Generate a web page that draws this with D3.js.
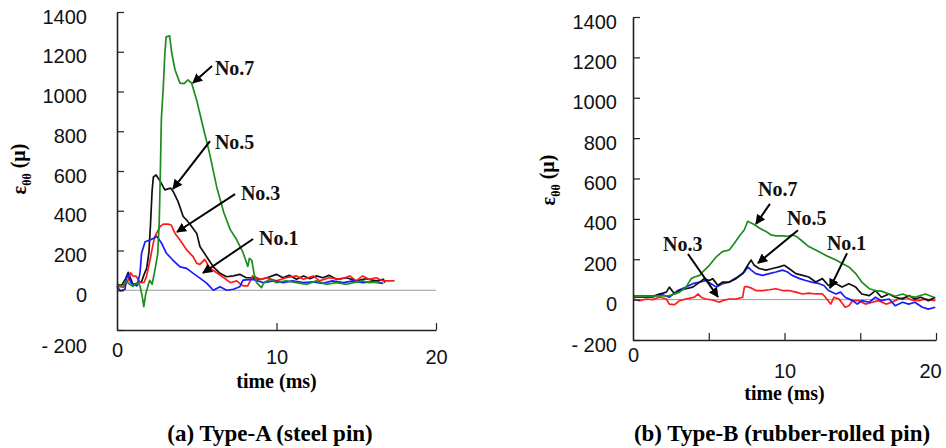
<!DOCTYPE html>
<html>
<head>
<meta charset="utf-8">
<script src="https://cdn.jsdelivr.net/npm/d3@7"></script>
<style>
body { margin: 0; background: #fff; }
svg { display: block; }
</style>
</head>
<body>
<script>
// tick labels
var yTicks = [-200, 0, 200, 400, 600, 800, 1000, 1200, 1400];
var xLabels = [0, 10, 20];

// Type-A (steel pin), [time ms, strain]
var aNo1 = [[0,22],[0.2,-3],[0.5,5],[0.6,60],[0.7,80],[0.85,40],[1.0,30],[1.25,22],[1.44,85],[1.54,186],[1.76,244],[2.07,253],[2.3,262],[2.49,272],[2.8,236],[3.1,186],[3.5,152],[3.95,118],[4.37,110],[4.78,85],[5.2,61],[5.62,36],[6.04,0],[6.46,18],[6.87,0],[7.3,5],[7.7,18],[7.9,51],[8.5,55],[9.2,38],[9.8,47],[10.4,38],[11,47],[11.7,38],[12.3,42],[12.9,35],[13.5,47],[14.2,38],[14.8,47],[15.4,38],[16,42],[16.7,35]];
var aNo3 = [[0,20],[0.4,15],[0.7,50],[0.85,88],[1.0,72],[1.2,70],[1.46,38],[1.7,40],[1.85,70],[2.07,152],[2.27,236],[2.4,275],[2.7,320],[2.9,333],[3.2,333],[3.4,328],[3.64,286],[3.95,253],[4.37,203],[4.77,169],[5.0,135],[5.2,130],[5.5,155],[5.8,113],[6.25,88],[6.7,63],[7.1,38],[7.5,47],[7.9,22],[8.2,22],[8.5,72],[9.0,55],[9.4,63],[10,47],[10.6,63],[11.25,72],[11.7,55],[12.3,72],[12.7,47],[13.3,63],[14,55],[14.6,72],[15,47],[15.4,72],[15.8,55],[16.25,63],[16.7,47],[17.1,47],[17.4,47]];
var aNo5 = [[0,30],[0.3,25],[0.55,60],[0.7,90],[0.85,60],[1.0,30],[1.3,35],[1.55,45],[1.7,80],[1.86,110],[2.0,190],[2.1,330],[2.2,500],[2.28,570],[2.45,580],[2.66,555],[3.0,505],[3.36,514],[3.52,497],[3.83,446],[4.15,371],[4.4,350],[4.6,330],[5.0,286],[5.2,220],[5.62,169],[6.04,118],[6.46,85],[6.87,68],[7.3,72],[7.7,80],[8.1,63],[8.5,63],[9.0,55],[9.4,63],[10,80],[10.4,63],[10.8,75],[11.25,55],[11.7,72],[12.1,58],[12.5,72],[12.9,63],[13.3,75],[13.75,55],[14.4,63],[15,47],[15.6,58],[16.25,47],[16.7,55],[16.8,38]];
var aNo7 = [[0,30],[0.3,20],[0.6,45],[0.8,30],[1.0,20],[1.3,40],[1.45,20],[1.6,-40],[1.68,-83],[1.8,-20],[1.9,10],[2.05,50],[2.2,30],[2.35,90],[2.55,180],[2.65,350],[2.72,600],[2.78,860],[2.9,1020],[3.0,1190],[3.08,1275],[3.3,1280],[3.43,1195],[3.64,1108],[3.95,1042],[4.2,1040],[4.45,1059],[4.68,1042],[5.0,955],[5.4,820],[5.8,690],[6.25,520],[6.7,390],[7.1,305],[7.5,255],[7.9,190],[8.2,120],[8.3,160],[8.45,150],[8.6,80],[8.75,38],[9.06,13],[9.2,38],[9.6,55],[10,38],[10.6,47],[11.25,38],[11.9,30],[12.5,47],[13.1,30],[13.75,38],[14.4,30],[14.8,38],[15.4,47],[15.8,38],[16.5,42]];

// Type-B (rubber-rolled pin)
var bNo1 = [[0,12],[1.3,12],[1.75,28],[2.1,20],[2.4,12],[2.96,45],[3.5,62],[3.95,79],[4.4,87],[4.8,95],[5.15,79],[5.5,62],[5.9,79],[6.36,87],[6.9,112],[7.35,137],[7.57,162],[7.8,146],[8.1,129],[8.55,120],[9.0,129],[9.43,137],[9.87,146],[10.2,137],[10.5,120],[11.0,104],[11.4,95],[11.8,87],[12.3,79],[12.6,70],[12.9,45],[13.4,28],[13.7,37],[14.0,12],[14.5,-5],[14.8,-22],[15.1,-5],[15.6,-13],[16.0,12],[16.4,-5],[16.9,3],[17.3,-30],[17.8,-13],[18.2,-22],[18.6,-13],[19.1,-38],[19.5,-47],[19.95,-38]];
var bNo3 = [[0,3],[0.44,-5],[0.88,3],[1.3,0],[1.75,12],[2.2,3],[2.4,-22],[2.75,-25],[3.07,-5],[3.5,3],[4.06,12],[4.3,28],[4.5,12],[4.8,3],[5.26,-2],[5.7,-13],[5.9,-5],[6.36,3],[6.8,3],[7.24,12],[7.35,62],[7.46,65],[7.8,58],[8.1,45],[8.55,45],[9.0,49],[9.43,54],[9.87,45],[10.3,45],[10.75,37],[11.2,28],[11.6,32],[12.06,28],[12.5,28],[12.7,12],[13.05,-22],[13.27,12],[13.6,3],[14.0,-38],[14.25,-30],[14.5,-5],[14.9,-5],[15.35,-22],[15.8,-13],[16.2,-5],[16.7,-22],[17.1,-13],[17.5,3],[18.0,12],[18.4,-2],[18.9,-5],[19.3,3],[19.95,-5]];
var bNo5 = [[0,17],[1.3,17],[2.2,37],[2.4,62],[2.75,28],[3.07,45],[3.5,54],[3.95,62],[4.4,87],[4.7,104],[5.04,95],[5.26,104],[5.6,70],[5.9,87],[6.36,87],[6.8,104],[7.24,129],[7.57,170],[7.8,196],[8.0,170],[8.33,154],[8.77,146],[9.2,154],[9.65,162],[9.98,170],[10.3,154],[10.75,129],[11.2,120],[11.6,112],[12.06,87],[12.5,104],[12.9,70],[13.4,79],[13.8,62],[14.25,79],[14.7,62],[15.1,28],[15.6,20],[16.0,45],[16.4,12],[16.9,28],[17.3,12],[17.8,3],[18.2,20],[18.6,3],[19.0,12],[19.5,-5],[19.95,12]];
var bNo7 = [[0,17],[1.3,17],[2.4,20],[3.07,37],[3.5,62],[3.84,104],[4.06,112],[4.4,120],[4.6,137],[5.04,170],[5.5,212],[5.9,238],[6.36,246],[6.7,280],[7.0,313],[7.35,346],[7.57,388],[7.8,380],[8.0,372],[8.33,355],[8.77,338],[9.1,321],[9.43,316],[9.87,316],[10.2,313],[10.5,321],[10.85,310],[11.2,288],[11.6,263],[12.06,246],[12.5,229],[12.9,213],[13.4,196],[13.8,179],[14.25,162],[14.7,129],[15.1,87],[15.6,54],[16.0,45],[16.4,42],[16.9,28],[17.3,17],[17.8,28],[18.2,17],[18.6,12],[19.3,28],[19.85,12]];

// labels: name, text anchor (t, v), arrow from (t, v) to (t, v)
var aNotes = [
  ["No.7", 6.14, 1118, 5.96, 1128, 4.76, 1043],
  ["No.5", 6.14, 746, 5.83, 750, 3.51, 510],
  ["No.3", 7.77, 489, 7.4, 484, 3.76, 293],
  ["No.1", 8.9, 263, 8.53, 258, 5.39, 87]
];
var bNotes = [
  ["No.7", 8.25, 548, 9.04, 474, 8.12, 375],
  ["No.5", 10.17, 404, 10.89, 344, 8.25, 181],
  ["No.3", 1.98, 275, 3.63, 226, 5.61, 13],
  ["No.1", 12.8, 280, 14.13, 230, 13.0, 57]
];

var colors = { No1: "#1a1aff", No3: "#ff1a1a", No5: "#111", No7: "#1e8c1e" };

var svg = d3.select("body").append("svg").attr("width", 946).attr("height", 448);
svg.append("rect").attr("width", 946).attr("height", 448).attr("fill", "#fff");

var defs = svg.append("defs");
defs.append("marker").attr("id", "head")
  .attr("viewBox", "0 0 10 10").attr("refX", 9).attr("refY", 5)
  .attr("markerWidth", 10).attr("markerHeight", 10)
  .attr("markerUnits", "userSpaceOnUse").attr("orient", "auto")
  .append("path").attr("d", "M0,0L10,5L0,10z").attr("fill", "#000");

function panel(opt) {
  var x = d3.scaleLinear().domain([0, 20]).range(opt.xr);
  var y = d3.scaleLinear().domain([-200, 1400]).range(opt.yr);
  var g = svg.append("g");

  // zero line
  g.append("line").attr("x1", x(0)).attr("x2", x(20)).attr("y1", y(0)).attr("y2", y(0))
    .attr("stroke", "#999").attr("stroke-width", 1);

  var line = d3.line().x(function(d) { return x(d[0]); }).y(function(d) { return y(d[1]); });
  opt.series.forEach(function(s) {
    g.append("path").datum(s[1]).attr("d", line)
      .attr("fill", "none").attr("stroke", colors[s[0]]).attr("stroke-width", 1.7)
      .attr("stroke-linejoin", "round");
  });

  var yAxis = g.append("g").attr("transform", "translate(" + x(0) + ",0)")
    .call(d3.axisLeft(y).tickValues(yTicks).tickSize(-7).tickSizeOuter(0).tickPadding(opt.pad)
      .tickFormat(function(d) { return d < 0 ? "- " + (-d) : d; }));
  yAxis.selectAll("text").attr("font-family", "Liberation Sans, Arial, sans-serif")
    .attr("font-size", 20).attr("fill", "#111")
    .attr("dy", function(d) { return d === -200 ? opt.lowDy : "0.55em"; });

  var xAxis = g.append("g").attr("transform", "translate(0," + y(-200) + ")")
    .call(d3.axisBottom(x).tickValues(opt.xTicks).tickSize(-7).tickSizeOuter(0).tickPadding(0)
      .tickFormat(function(d) { return xLabels.indexOf(d) >= 0 ? d : ""; }));
  xAxis.selectAll("text").attr("font-family", "Liberation Sans, Arial, sans-serif")
    .attr("font-size", 20).attr("fill", "#111")
    .attr("dy", function(d) { return d === 0 ? opt.zeroDy : opt.labDy; })
    .attr("dx", function(d) { return d === 20 ? opt.endDx : 0; });

  g.selectAll(".domain").attr("stroke", "#222").attr("stroke-width", 1.6);
  g.selectAll(".tick line").attr("stroke", "#222").attr("stroke-width", 1.2);
  g.selectAll(".tick").filter(function(d) { return d === 0 && this.parentNode === xAxis.node(); })
    .select("line").remove();

  // axis titles
  var yl = g.append("text").attr("transform", "translate(" + opt.yLab[0] + "," + opt.yLab[1] + ") rotate(-90)")
    .attr("text-anchor", "middle").attr("font-family", "Liberation Serif, Times New Roman, serif")
    .attr("font-weight", "bold").attr("font-size", 20).attr("dy", "0.35em");
  yl.append("tspan").text("ε");
  yl.append("tspan").attr("font-size", 12).attr("dy", "0.45em").text("θθ");
  yl.append("tspan").attr("dy", "-0.3em").text(" (μ)");

  g.append("text").attr("x", x(10)).attr("y", opt.xLabY).attr("text-anchor", "middle")
    .attr("font-family", "Liberation Serif, Times New Roman, serif").attr("font-weight", "bold")
    .attr("font-size", 20).text("time (ms)");

  g.append("text").attr("x", opt.capX).attr("y", 441).attr("text-anchor", "middle")
    .attr("font-family", "Liberation Serif, Times New Roman, serif").attr("font-weight", "bold")
    .attr("font-size", 23).text(opt.caption);

  // annotations
  opt.notes.forEach(function(n) {
    g.append("line").attr("x1", x(n[3])).attr("y1", y(n[4])).attr("x2", x(n[5])).attr("y2", y(n[6]))
      .attr("stroke", "#000").attr("stroke-width", 2).attr("marker-end", "url(#head)");
    g.append("text").attr("x", x(n[1])).attr("y", y(n[2])).attr("dy", "0.35em")
      .attr("font-family", "Liberation Serif, Times New Roman, serif").attr("font-weight", "bold")
      .attr("font-size", 20).attr("fill", "#111").text(n[0]);
  });
}

panel({
  xr: [117, 436], yr: [330, 12], pad: 30, lowDy: "1.1em", zeroDy: "1.35em", labDy: "1.7em", endDx: 0,
  xTicks: [0, 10, 20], yLab: [19, 169], xLabY: 388, capX: 270, caption: "(a) Type-A (steel pin)",
  series: [["No5", aNo5], ["No3", aNo3], ["No1", aNo1], ["No7", aNo7]], notes: aNotes
});
panel({
  xr: [633, 936], yr: [340, 17], pad: 16, lowDy: "0.55em", zeroDy: "1.1em", labDy: "1.9em", endDx: -6,
  xTicks: [0, 5, 10, 15, 20], yLab: [548, 180], xLabY: 400, capX: 782, caption: "(b) Type-B (rubber-rolled pin)",
  series: [["No3", bNo3], ["No1", bNo1], ["No5", bNo5], ["No7", bNo7]], notes: bNotes
});
</script>
</body>
</html>
